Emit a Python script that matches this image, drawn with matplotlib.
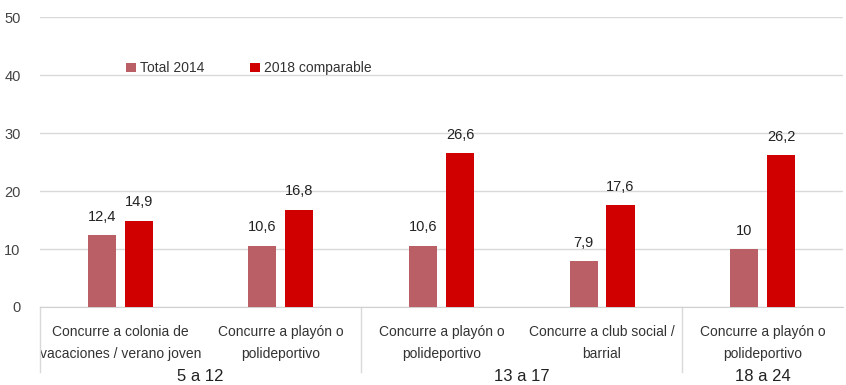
import numpy as np
from matplotlib import pyplot as plt

categories = ['Concurre a colonia de\nvacaciones / verano joven',
              'Concurre a playón o\npolideportivo',
              'Concurre a playón o\npolideportivo',
              'Concurre a club social /\nbarrial',
              'Concurre a playón o\npolideportivo']
groups = ['5 a 12', '13 a 17', '18 a 24']
group_sizes = [2, 2, 1]
total_2014 = [12.4, 10.6, 10.6, 7.9, 10]
comp_2018 = [14.9, 16.8, 26.6, 17.6, 26.2]

plt.rcParams['font.family'] = ['Liberation Sans', 'DejaVu Sans']

fig = plt.figure(figsize=(8.46, 3.85), dpi=100)
ax = fig.add_axes([0.0473, 0.2026, 0.9491, 0.7532])

x = np.arange(len(categories))
w = 0.175
b1 = ax.bar(x - 0.115, total_2014, w, color='#bb5f66', label='Total 2014', zorder=3)
b2 = ax.bar(x + 0.115, comp_2018, w, color='#d00000', label='2018 comparable', zorder=3)

fmt = lambda v: ('%g' % v).replace('.', ',')
ax.bar_label(b1, labels=[fmt(v) for v in total_2014], padding=8, fontsize=10.5, color='#222222')
ax.bar_label(b2, labels=[fmt(v) for v in comp_2018], padding=8, fontsize=10.5, color='#222222')

ax.set_xlim(-0.5, len(categories) - 0.5)
ax.set_ylim(0, 50)
ax.set_yticks(range(0, 51, 10))
ax.tick_params(axis='y', length=0, labelsize=10.5, labelcolor='#444444', pad=14)
ax.grid(axis='y', color='#d9d9d9', linewidth=1, zorder=0)
for s in ['top', 'right', 'left']:
    ax.spines[s].set_visible(False)
ax.spines['bottom'].set_color('#d0d0d0')

ax.set_xticks(x)
ax.set_xticklabels(categories, fontsize=10, color='#333333', linespacing=1.75)
ax.tick_params(axis='x', length=0, pad=13)

# group separators and labels
trans = ax.get_xaxis_transform()
start = 0
for g, n in zip(groups, group_sizes):
    ax.plot([start - 0.5, start - 0.5], [0, -0.225], transform=trans, color='#d9d9d9',
            linewidth=1, clip_on=False)
    ax.text(start + (n - 1) / 2, -0.24, g, transform=trans, ha='center', va='center',
            fontsize=12, color='#222222')
    start += n

ax.legend(loc='upper left', bbox_to_anchor=(0.092, 0.89), ncol=2, frameon=False,
          fontsize=10, handlelength=0.7, handleheight=0.7, handletextpad=0.3,
          columnspacing=3.3, labelcolor='#333333')

fig.savefig('out.png', dpi=100)
